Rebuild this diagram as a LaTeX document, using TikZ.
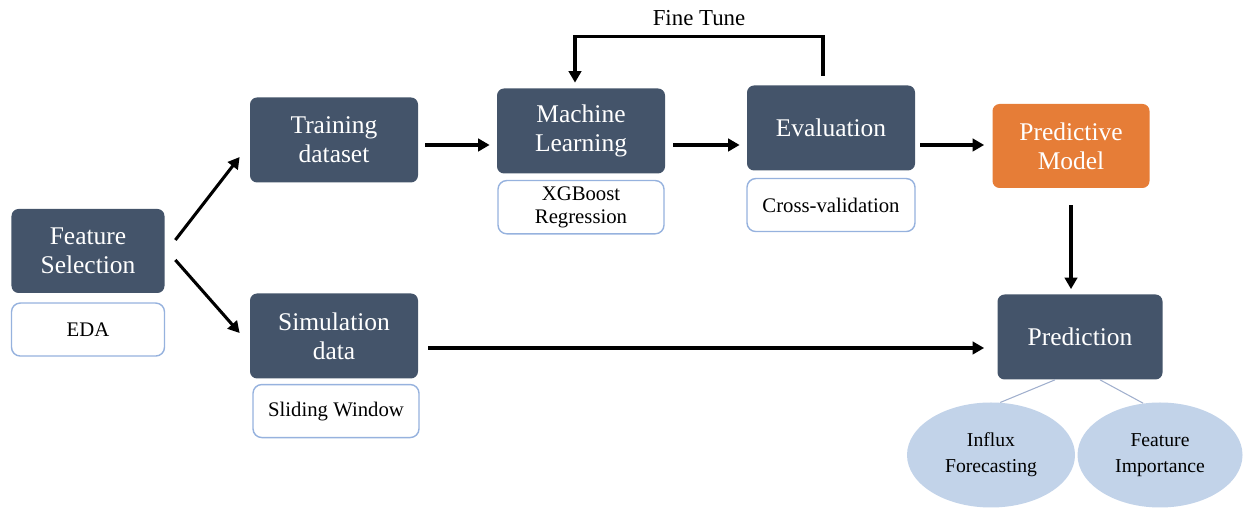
\documentclass[tikz,border=0pt]{standalone}
\usepackage{fontspec}
\setmainfont{Liberation Serif}
\usetikzlibrary{shapes.geometric,arrows.meta,positioning,calc}
\definecolor{slateDark}{RGB}{68,84,106}
\definecolor{modelOrange}{RGB}{230,125,55}
\definecolor{subBorder}{RGB}{150,178,222}
\definecolor{ovalFill}{RGB}{194,211,233}
\definecolor{linkGray}{RGB}{160,175,205}
\tikzset{
  stepbox/.style={rectangle,rounded corners=4pt,fill=slateDark,text=white,align=center,minimum width=3.36cm,minimum height=1.7cm,font=\fontsize{14.5}{16.5}\selectfont},
  subbox/.style={rectangle,rounded corners=5pt,draw=subBorder,line width=0.8pt,fill=white,align=center,minimum width=3.32cm,minimum height=1.06cm,font=\fontsize{11.8}{13.3}\selectfont},
  outoval/.style={ellipse,fill=ovalFill,align=center,minimum width=3.36cm,minimum height=2.1cm,font=\fontsize{11.2}{15}\selectfont},
  arr/.style={->,>={Triangle[length=6.5pt,width=7pt]},line width=1.75pt},
  linkline/.style={draw=linkGray,line width=0.6pt}
}
\begin{document}
\begin{tikzpicture}[node distance=0.14cm]
  \useasboundingbox (0,0) rectangle (24.86,10.2);
  \node[stepbox,minimum width=3.06cm,minimum height=1.68cm] (feat) at (1.76,5.18) {Feature\\Selection};
  \node[subbox,minimum width=3.06cm,below=0.18cm of feat] (eda) {EDA};
  \node[stepbox] (train) at (6.68,7.40) {Training\\dataset};
  \node[stepbox] (sim) at (6.68,3.48) {Simulation\\data};
  \node[subbox,below=0.1cm of sim,xshift=0.04cm] (slide) {Sliding Window};
  \node[stepbox] (ml) at (11.62,7.58) {Machine\\Learning};
  \node[subbox,below=0.12cm of ml] (xgb) {XGBoost\\Regression};
  \node[stepbox] (eval) at (16.62,7.64) {Evaluation};
  \node[subbox,minimum width=3.36cm,below=0.14cm of eval] (cv) {Cross-validation};
  \node[stepbox,fill=modelOrange,minimum width=3.14cm,minimum height=1.68cm] (pmodel) at (21.42,7.28) {Predictive\\Model};
  \node[stepbox,minimum width=3.3cm] (pred) at (21.60,3.46) {Prediction};
  \node[outoval] (influx) at (19.82,1.10) {Influx\\Forecasting};
  \node[outoval,minimum width=3.3cm] (fimp) at (23.20,1.10) {Feature\\Importance};
  % main flow
  \draw[arr] ([xshift=0.21cm,yshift=0.22cm]feat.east) -- ([xshift=-0.2cm,yshift=-0.34cm]train.west);
  \draw[arr] ([xshift=0.21cm,yshift=-0.18cm]feat.east) -- ([xshift=-0.2cm,yshift=0.06cm]sim.west);
  \draw[arr] ($(train.east)+(0.14,-0.1)$) -- ($(ml.west |- train.east)+(-0.14,-0.1)$);
  \draw[arr] ($(ml.east)+(0.16,-0.28)$) -- ($(eval.west |- ml.east)+(-0.14,-0.28)$);
  \draw[arr] ($(eval.east)+(0.1,-0.34)$) -- ($(pmodel.west |- eval.east)+(-0.16,-0.34)$);
  \draw[arr] ($(pmodel.south)+(0,-0.34)$) -- ($(pmodel.south |- pred.north)+(0,0.1)$);
  \draw[arr] ($(sim.east)+(0.2,-0.24)$) -- ($(pred.west |- sim.east)+(-0.26,-0.24)$);
  % fine tune loop
  \draw[arr] ([xshift=-0.16cm,yshift=0.19cm]eval.north) -- ++(0,0.78)
    -| node[pos=0.25,above=2pt,font=\fontsize{13}{15}\selectfont] (ftune) {Fine Tune} ([xshift=-0.12cm,yshift=0.11cm]ml.north);
  % outputs
  \draw[linkline] ([xshift=-0.5cm]pred.south) -- (influx.80);
  \draw[linkline] ([xshift=0.4cm]pred.south) -- (fimp.108);
\end{tikzpicture}
\end{document}
